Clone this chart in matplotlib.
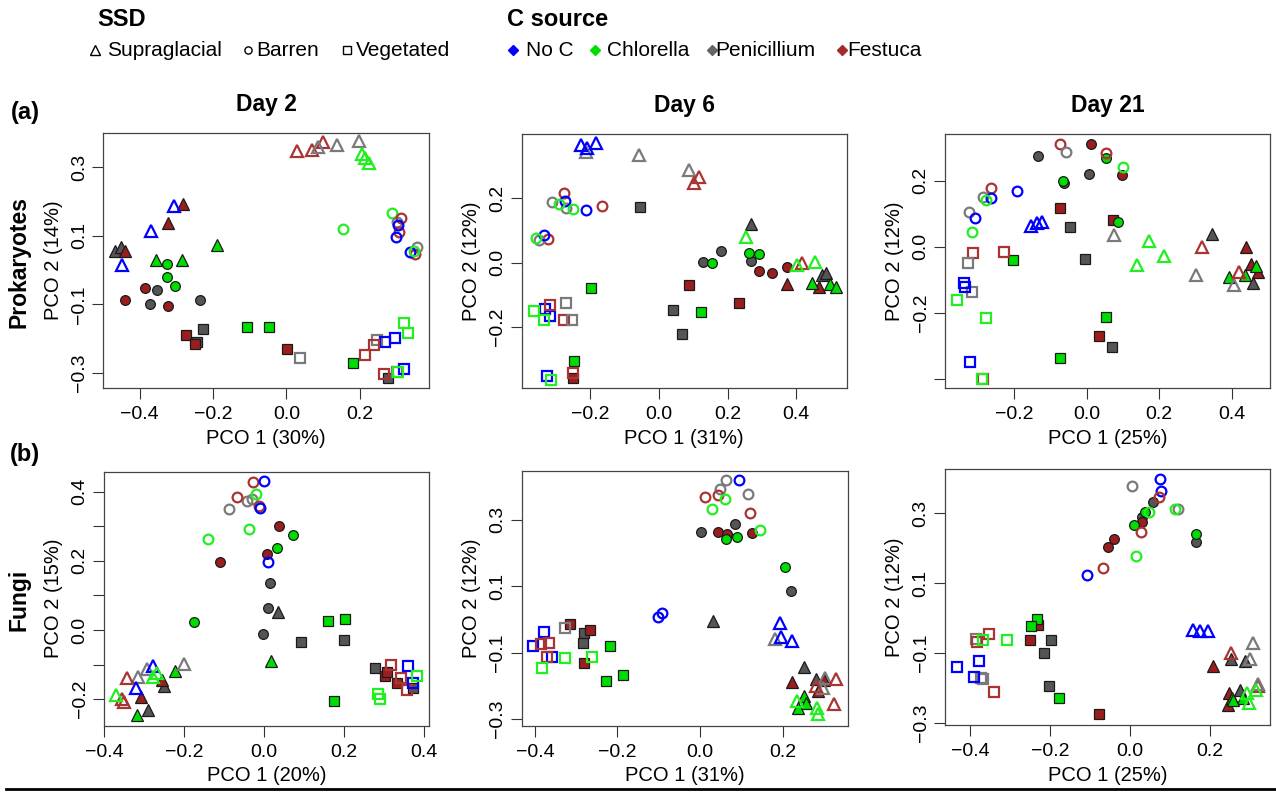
import matplotlib.pyplot as plt
from matplotlib.lines import Line2D

plt.rcParams['font.family'] = ['Liberation Sans', 'DejaVu Sans']

# point tables: (ssd, c source, filled, PCO1, PCO2)
# ssd: S = Supraglacial, B = Barren, V = Vegetated
# source: N = No C, C = Chlorella, P = Penicillium, F = Festuca
prok_day2 = [
    ("S", "N", 0, -0.306, 0.188), ("S", "N", 0, -0.370, 0.113), ("S", "N", 0, -0.447, 0.014),
    ("S", "F", 0, 0.028, 0.347), ("S", "F", 0, 0.069, 0.349), ("S", "F", 0, 0.099, 0.373),
    ("S", "P", 0, 0.087, 0.359), ("S", "P", 0, 0.139, 0.365), ("S", "P", 0, 0.198, 0.376),
    ("S", "C", 0, 0.207, 0.339), ("S", "C", 0, 0.215, 0.325), ("S", "C", 0, 0.226, 0.312),
    ("S", "P", 1, -0.467, 0.057), ("S", "P", 1, -0.452, 0.067),
    ("S", "F", 1, -0.283, 0.193), ("S", "F", 1, -0.323, 0.137), ("S", "F", 1, -0.440, 0.055),
    ("S", "C", 1, -0.188, 0.072), ("S", "C", 1, -0.355, 0.030), ("S", "C", 1, -0.284, 0.028),
    ("B", "C", 0, 0.155, 0.120), ("B", "C", 0, 0.289, 0.167),
    ("B", "P", 0, 0.301, 0.140), ("B", "P", 0, 0.355, 0.067),
    ("B", "F", 0, 0.313, 0.152), ("B", "F", 0, 0.308, 0.111), ("B", "F", 0, 0.351, 0.046),
    ("B", "N", 0, 0.305, 0.130), ("B", "N", 0, 0.299, 0.096), ("B", "N", 0, 0.337, 0.052),
    ("B", "C", 0, 0.348, 0.055),
    ("B", "C", 1, -0.325, 0.018), ("B", "C", 1, -0.324, -0.019), ("B", "C", 1, -0.303, -0.047),
    ("B", "F", 1, -0.384, -0.053), ("B", "F", 1, -0.440, -0.087), ("B", "F", 1, -0.322, -0.105),
    ("B", "P", 1, -0.353, -0.059), ("B", "P", 1, -0.372, -0.100), ("B", "P", 1, -0.235, -0.086),
    ("V", "P", 1, -0.243, -0.208), ("V", "P", 1, -0.226, -0.172), ("V", "P", 1, 0.276, -0.315),
    ("V", "F", 1, -0.274, -0.190), ("V", "F", 1, -0.250, -0.214), ("V", "F", 1, 0.002, -0.230),
    ("V", "C", 1, -0.108, -0.166), ("V", "C", 1, -0.047, -0.167), ("V", "C", 1, 0.181, -0.269),
    ("V", "P", 0, 0.038, -0.256), ("V", "P", 0, 0.248, -0.202), ("V", "P", 0, 0.301, -0.298),
    ("V", "N", 0, 0.268, -0.209), ("V", "N", 0, 0.295, -0.198), ("V", "N", 0, 0.322, -0.288),
    ("V", "F", 0, 0.239, -0.219), ("V", "F", 0, 0.215, -0.248), ("V", "F", 0, 0.265, -0.301),
    ("V", "C", 0, 0.305, -0.298), ("V", "C", 0, 0.322, -0.155), ("V", "C", 0, 0.333, -0.184),
]

prok_day6 = [
    ("S", "P", 0, -0.213, 0.343), ("S", "P", 0, -0.058, 0.335), ("S", "P", 0, 0.088, 0.288),
    ("S", "N", 0, -0.228, 0.366), ("S", "N", 0, -0.209, 0.355), ("S", "N", 0, -0.184, 0.373),
    ("S", "F", 0, 0.117, 0.265), ("S", "F", 0, 0.103, 0.247), ("S", "F", 0, 0.416, 0.000),
    ("S", "C", 0, 0.255, 0.081), ("S", "C", 0, 0.401, -0.009), ("S", "C", 0, 0.456, 0.003),
    ("S", "P", 1, 0.267, 0.120), ("S", "P", 1, 0.474, -0.040), ("S", "P", 1, 0.488, -0.033),
    ("S", "F", 1, 0.374, -0.067), ("S", "F", 1, 0.466, -0.075),
    ("S", "C", 1, 0.447, -0.062), ("S", "C", 1, 0.498, -0.067), ("S", "C", 1, 0.515, -0.075),
    ("B", "F", 0, -0.276, 0.216), ("B", "F", 0, -0.165, 0.176), ("B", "F", 0, -0.324, 0.073),
    ("B", "P", 0, -0.313, 0.190), ("B", "P", 0, -0.272, 0.171), ("B", "P", 0, -0.350, 0.070),
    ("B", "N", 0, -0.274, 0.193), ("B", "N", 0, -0.213, 0.164), ("B", "N", 0, -0.335, 0.086),
    ("B", "C", 0, -0.291, 0.182), ("B", "C", 0, -0.250, 0.166), ("B", "C", 0, -0.359, 0.076),
    ("B", "P", 1, 0.127, 0.003), ("B", "P", 1, 0.182, 0.037), ("B", "P", 1, 0.268, 0.005),
    ("B", "C", 1, 0.154, -0.002), ("B", "C", 1, 0.261, 0.029), ("B", "C", 1, 0.291, 0.026),
    ("B", "F", 1, 0.290, -0.025), ("B", "F", 1, 0.328, -0.033), ("B", "F", 1, 0.372, -0.015),
    ("V", "P", 1, -0.055, 0.172), ("V", "P", 1, 0.040, -0.148), ("V", "P", 1, 0.068, -0.223),
    ("V", "C", 1, -0.197, -0.078), ("V", "C", 1, 0.122, -0.153), ("V", "C", 1, -0.249, -0.305),
    ("V", "F", 1, 0.087, -0.069), ("V", "F", 1, 0.232, -0.126), ("V", "F", 1, -0.250, -0.360),
    ("V", "N", 0, -0.332, -0.145), ("V", "N", 0, -0.317, -0.166), ("V", "N", 0, -0.325, -0.352),
    ("V", "C", 0, -0.364, -0.152), ("V", "C", 0, -0.335, -0.178), ("V", "C", 0, -0.316, -0.365),
    ("V", "F", 0, -0.317, -0.132), ("V", "F", 0, -0.276, -0.180), ("V", "F", 0, -0.250, -0.344),
    ("V", "P", 0, -0.271, -0.126), ("V", "P", 0, -0.254, -0.180),
]

prok_day21 = [
    ("B", "F", 0, -0.072, 0.311), ("B", "F", 0, 0.053, 0.282), ("B", "F", 0, -0.263, 0.176),
    ("B", "P", 0, -0.057, 0.285), ("B", "P", 0, -0.285, 0.151), ("B", "P", 0, -0.325, 0.104),
    ("B", "N", 0, -0.263, 0.148), ("B", "N", 0, -0.193, 0.168), ("B", "N", 0, -0.307, 0.087),
    ("B", "C", 0, 0.101, 0.240), ("B", "C", 0, -0.277, 0.141), ("B", "C", 0, -0.315, 0.044),
    ("B", "F", 1, 0.012, 0.311), ("B", "F", 1, 0.097, 0.217),
    ("B", "P", 1, -0.135, 0.274), ("B", "P", 1, 0.007, 0.220), ("B", "P", 1, -0.062, 0.193),
    ("V", "F", 1, -0.074, 0.116), ("V", "F", 1, 0.074, 0.081), ("V", "F", 1, 0.035, -0.272),
    ("B", "C", 1, 0.053, 0.268), ("B", "C", 1, -0.066, 0.198), ("B", "C", 1, 0.087, 0.075),
    ("S", "N", 0, -0.153, 0.063), ("S", "N", 0, -0.138, 0.071), ("S", "N", 0, -0.123, 0.076),
    ("S", "P", 0, 0.076, 0.035), ("S", "P", 0, 0.301, -0.086), ("S", "P", 0, 0.407, -0.116),
    ("S", "C", 0, 0.171, 0.017), ("S", "C", 0, 0.213, -0.027), ("S", "C", 0, 0.140, -0.057),
    ("S", "F", 0, 0.318, -0.002), ("S", "F", 0, 0.420, -0.078),
    ("S", "P", 1, 0.345, 0.038), ("S", "P", 1, 0.459, -0.109),
    ("S", "F", 1, 0.438, 0.000), ("S", "F", 1, 0.453, -0.052), ("S", "F", 1, 0.473, -0.076),
    ("S", "C", 1, 0.466, -0.060), ("S", "C", 1, 0.392, -0.091), ("S", "C", 1, 0.436, -0.086),
    ("V", "P", 1, -0.046, 0.058), ("V", "P", 1, -0.004, -0.038), ("V", "P", 1, 0.069, -0.303),
    ("V", "C", 1, -0.202, -0.042), ("V", "C", 1, 0.053, -0.214), ("V", "C", 1, -0.072, -0.338),
    ("V", "F", 0, -0.312, -0.018), ("V", "F", 0, -0.228, -0.015), ("V", "F", 0, -0.285, -0.401),
    ("V", "P", 0, -0.326, -0.050), ("V", "P", 0, -0.317, -0.138),
    ("V", "N", 0, -0.339, -0.109), ("V", "N", 0, -0.334, -0.123), ("V", "N", 0, -0.322, -0.350),
    ("V", "C", 0, -0.358, -0.161), ("V", "C", 0, -0.276, -0.217), ("V", "C", 0, -0.288, -0.401),
]

fungi_day2 = [
    ("B", "P", 0, -0.044, 0.373), ("B", "P", 0, -0.088, 0.349), ("B", "P", 0, -0.030, 0.380),
    ("B", "F", 0, -0.028, 0.429), ("B", "F", 0, -0.069, 0.384), ("B", "F", 0, -0.014, 0.360),
    ("B", "N", 0, -0.001, 0.432), ("B", "N", 0, -0.011, 0.354), ("B", "N", 0, 0.010, 0.196),
    ("B", "C", 0, -0.021, 0.394), ("B", "C", 0, -0.038, 0.293), ("B", "C", 0, -0.140, 0.264),
    ("B", "F", 1, 0.038, 0.301), ("B", "F", 1, 0.006, 0.220), ("B", "F", 1, -0.110, 0.196),
    ("B", "C", 1, 0.073, 0.275), ("B", "C", 1, 0.033, 0.238), ("B", "C", 1, -0.175, 0.024),
    ("B", "P", 1, 0.015, 0.137), ("B", "P", 1, 0.010, 0.065), ("B", "P", 1, -0.004, -0.011),
    ("S", "P", 1, 0.035, 0.053), ("S", "P", 1, -0.252, -0.162), ("S", "P", 1, -0.290, -0.232),
    ("S", "C", 1, 0.017, -0.089), ("S", "C", 1, -0.223, -0.119), ("S", "C", 1, -0.319, -0.246),
    ("S", "F", 1, -0.257, -0.145), ("S", "F", 1, -0.308, -0.193),
    ("S", "P", 0, -0.200, -0.099), ("S", "P", 0, -0.293, -0.114), ("S", "P", 0, -0.317, -0.137),
    ("S", "N", 0, -0.278, -0.104), ("S", "N", 0, -0.321, -0.167),
    ("S", "F", 0, -0.343, -0.138), ("S", "F", 0, -0.351, -0.209), ("S", "F", 0, -0.355, -0.200),
    ("S", "C", 0, -0.269, -0.125), ("S", "C", 0, -0.278, -0.135), ("S", "C", 0, -0.371, -0.187),
    ("V", "C", 1, 0.160, 0.027), ("V", "C", 1, 0.202, 0.031), ("V", "C", 1, 0.175, -0.206),
    ("V", "P", 1, 0.093, -0.035), ("V", "P", 1, 0.199, -0.029), ("V", "P", 1, 0.277, -0.111),
    ("V", "P", 1, 0.373, -0.169),
    ("V", "F", 1, 0.302, -0.133), ("V", "F", 1, 0.308, -0.121), ("V", "F", 1, 0.331, -0.152),
    ("V", "F", 0, 0.318, -0.101), ("V", "F", 0, 0.343, -0.140), ("V", "F", 0, 0.356, -0.174),
    ("V", "N", 0, 0.360, -0.104), ("V", "N", 0, 0.373, -0.152),
    ("V", "C", 0, 0.381, -0.133), ("V", "C", 0, 0.285, -0.185), ("V", "C", 0, 0.289, -0.200),
]

fungi_day6 = [
    ("B", "P", 0, 0.063, 0.419), ("B", "P", 0, 0.048, 0.391), ("B", "P", 0, 0.117, 0.376),
    ("B", "N", 0, 0.095, 0.419), ("B", "N", 0, -0.101, 0.008), ("B", "N", 0, -0.093, 0.020),
    ("B", "F", 0, 0.011, 0.368), ("B", "F", 0, 0.043, 0.375), ("B", "F", 0, 0.121, 0.320),
    ("B", "C", 0, 0.061, 0.363), ("B", "C", 0, 0.028, 0.333), ("B", "C", 0, 0.145, 0.268),
    ("B", "P", 1, 0.002, 0.263), ("B", "P", 1, 0.086, 0.286), ("B", "P", 1, 0.220, 0.085),
    ("B", "F", 1, 0.043, 0.263), ("B", "F", 1, 0.065, 0.258), ("B", "F", 1, 0.125, 0.261),
    ("B", "C", 1, 0.063, 0.241), ("B", "C", 1, 0.090, 0.248), ("B", "C", 1, 0.206, 0.158),
    ("S", "P", 1, 0.032, -0.005), ("S", "P", 1, 0.253, -0.142), ("S", "P", 1, 0.280, -0.180),
    ("S", "F", 1, 0.222, -0.189), ("S", "F", 1, 0.301, -0.184), ("S", "F", 1, 0.287, -0.215),
    ("S", "C", 1, 0.253, -0.231), ("S", "C", 1, 0.257, -0.253), ("S", "C", 1, 0.237, -0.268),
    ("S", "P", 0, 0.182, -0.060), ("S", "P", 0, 0.303, -0.177), ("S", "P", 0, 0.297, -0.208),
    ("S", "N", 0, 0.195, -0.010), ("S", "N", 0, 0.196, -0.052), ("S", "N", 0, 0.224, -0.064),
    ("S", "F", 0, 0.329, -0.180), ("S", "F", 0, 0.280, -0.200), ("S", "F", 0, 0.325, -0.256),
    ("S", "C", 0, 0.234, -0.245), ("S", "C", 0, 0.283, -0.268), ("S", "C", 0, 0.287, -0.286),
    ("V", "P", 1, -0.280, -0.042), ("V", "P", 1, -0.284, -0.072),
    ("V", "F", 1, -0.315, -0.015), ("V", "F", 1, -0.266, -0.032), ("V", "F", 1, -0.280, -0.130),
    ("V", "C", 1, -0.218, -0.079), ("V", "C", 1, -0.187, -0.169), ("V", "C", 1, -0.228, -0.187),
    ("V", "P", 0, -0.327, -0.025),
    ("V", "N", 0, -0.377, -0.037), ("V", "N", 0, -0.404, -0.079), ("V", "N", 0, -0.359, -0.112),
    ("V", "F", 0, -0.386, -0.075), ("V", "F", 0, -0.367, -0.070), ("V", "F", 0, -0.370, -0.112),
    ("V", "C", 0, -0.327, -0.117), ("V", "C", 0, -0.262, -0.112), ("V", "C", 0, -0.384, -0.145),
]

fungi_day21 = [
    ("B", "P", 0, 0.004, 0.378), ("B", "P", 0, 0.121, 0.312),
    ("B", "N", 0, 0.075, 0.396), ("B", "N", 0, 0.078, 0.364), ("B", "N", 0, -0.108, 0.122),
    ("B", "F", 0, 0.073, 0.345), ("B", "F", 0, 0.028, 0.246), ("B", "F", 0, -0.067, 0.143),
    ("B", "C", 0, 0.048, 0.304), ("B", "C", 0, 0.113, 0.312), ("B", "C", 0, 0.015, 0.178),
    ("B", "P", 1, 0.057, 0.332), ("B", "P", 1, 0.029, 0.288), ("B", "P", 1, 0.164, 0.217),
    ("B", "F", 1, 0.031, 0.275), ("B", "F", 1, -0.039, 0.226), ("B", "F", 1, -0.056, 0.202),
    ("B", "C", 1, 0.038, 0.302), ("B", "C", 1, 0.010, 0.266), ("B", "C", 1, 0.165, 0.240),
    ("S", "N", 0, 0.158, -0.033), ("S", "N", 0, 0.175, -0.038), ("S", "N", 0, 0.196, -0.038),
    ("S", "F", 0, 0.252, -0.099), ("S", "F", 0, 0.320, -0.195),
    ("S", "P", 0, 0.307, -0.071), ("S", "P", 0, 0.300, -0.116), ("S", "P", 0, 0.319, -0.188),
    ("S", "C", 0, 0.314, -0.204), ("S", "C", 0, 0.292, -0.213), ("S", "C", 0, 0.298, -0.242),
    ("S", "P", 1, 0.252, -0.116), ("S", "P", 1, 0.288, -0.123), ("S", "P", 1, 0.275, -0.204),
    ("S", "F", 1, 0.208, -0.137), ("S", "F", 1, 0.248, -0.213), ("S", "F", 1, 0.246, -0.247),
    ("S", "C", 1, 0.254, -0.228), ("S", "C", 1, 0.283, -0.228), ("S", "C", 1, 0.258, -0.235),
    ("V", "F", 1, -0.229, -0.019), ("V", "F", 1, -0.249, -0.061), ("V", "F", 1, -0.078, -0.275),
    ("V", "C", 1, -0.233, -0.002), ("V", "C", 1, -0.248, -0.023), ("V", "C", 1, -0.178, -0.228),
    ("V", "P", 1, -0.198, -0.061), ("V", "P", 1, -0.216, -0.099), ("V", "P", 1, -0.203, -0.194),
    ("V", "P", 0, -0.385, -0.060), ("V", "P", 0, -0.368, -0.173), ("V", "P", 0, -0.372, -0.170),
    ("V", "F", 0, -0.352, -0.046), ("V", "F", 0, -0.382, -0.069), ("V", "F", 0, -0.340, -0.211),
    ("V", "C", 0, -0.367, -0.063), ("V", "C", 0, -0.308, -0.061),
    ("V", "N", 0, -0.433, -0.139), ("V", "N", 0, -0.377, -0.123), ("V", "N", 0, -0.390, -0.168),
]

days = ["Day 2", "Day 6", "Day 21"]
x_labels = ["PCO 1 (30%)", "PCO 1 (31%)", "PCO 1 (25%)", "PCO 1 (20%)", "PCO 1 (31%)", "PCO 1 (25%)"]
y_labels = ["PCO 2 (14%)", "PCO 2 (12%)", "PCO 2 (12%)", "PCO 2 (15%)", "PCO 2 (12%)", "PCO 2 (12%)"]
ssd_names = ["Supraglacial", "Barren", "Vegetated"]
source_names = ["No C", "Chlorella", "Penicillium", "Festuca"]

shape = {"S": "^", "B": "o", "V": "s"}
msize = {"S": 8.2, "B": 7.0, "V": 6.6}
fill_col = {"N": "#0000FF", "C": "#00DD00", "P": "#555555", "F": "#9A1E1E"}
open_col = {"N": "#0000FF", "C": "#22EE22", "P": "#7A7A7A", "F": "#AA3333"}
legend_col = ["#0000FF", "#00DD00", "#666666", "#A52A2A"]

W, H = 1276, 794
fig = plt.figure(figsize=(W / 100, H / 100), dpi=100)

def px_box(x0, x1, y0, y1):
    return [x0 / W, 1 - y1 / H, (x1 - x0) / W, (y1 - y0) / H]

panels = [
    (prok_day2, px_box(103.3, 429, 133, 388.3), (-0.499, 0.389), (-0.344, 0.399),
     [-0.4, -0.2, 0.0, 0.2], [-0.3, -0.1, 0.1, 0.3], [-0.3, -0.1, 0.1, 0.3]),
    (prok_day6, px_box(521.7, 846.7, 134, 388.3), (-0.400, 0.547), (-0.391, 0.400),
     [-0.2, 0.0, 0.2, 0.4], [-0.2, 0.0, 0.2], [-0.2, 0.0, 0.2]),
    (prok_day21, px_box(945, 1270, 134, 388.3), (-0.390, 0.505), (-0.429, 0.341),
     [-0.2, 0.0, 0.2, 0.4], [-0.4, -0.2, 0.0, 0.2], [-0.2, 0.0, 0.2]),
    (fungi_day2, px_box(104, 429, 471.7, 725.7), (-0.401, 0.412), (-0.277, 0.458),
     [-0.4, -0.2, 0.0, 0.2, 0.4], [-0.2, -0.1, 0.0, 0.1, 0.2, 0.3, 0.4], [-0.2, 0.0, 0.2, 0.4]),
    (fungi_day6, px_box(521.7, 847.7, 470.7, 725.7), (-0.432, 0.358), (-0.320, 0.447),
     [-0.4, -0.2, 0.0, 0.2], [-0.3, -0.1, 0.1, 0.3], [-0.3, -0.1, 0.1, 0.3]),
    (fungi_day21, px_box(945, 1270, 469.3, 725), (-0.4625, 0.350), (-0.305, 0.425),
     [-0.4, -0.2, 0.0, 0.2], [-0.3, -0.1, 0.1, 0.3], [-0.3, -0.1, 0.1, 0.3]),
]

def fmt(v):
    s = f"{v:.1f}"
    return s.replace("-", "\u2212")

for i, (pts, pos, xlim, ylim, xt, yt, ylab_vals) in enumerate(panels):
    ax = fig.add_axes(pos)
    # filled symbols first, open ones on top
    for ssd, src, filled, x, y in sorted(pts, key=lambda p: 1 - p[2]):
        if filled:
            ax.plot(x, y, marker=shape[ssd], ms=msize[ssd], mfc=fill_col[src],
                    mec="#1a1a1a", mew=0.9, ls="none")
        else:
            ax.plot(x, y, marker=shape[ssd], ms=msize[ssd], mfc="none",
                    mec=open_col[src], mew=1.6, ls="none")
    ax.set_xlim(xlim)
    ax.set_ylim(ylim)
    ax.set_xticks(xt)
    ax.set_xticklabels([fmt(v) for v in xt])
    ax.set_yticks(yt)
    ax.set_yticklabels([fmt(v) if any(abs(v - w) < 1e-9 for w in ylab_vals) else "" for v in yt])
    for lbl in ax.get_yticklabels():
        lbl.set_rotation(90)
        lbl.set_va("center")
    ax.tick_params(direction="out", length=8, width=0.8, color="#333333", labelsize=14)
    ax.tick_params(axis="x", pad=5)
    ax.tick_params(axis="y", pad=3)
    for sp in ax.spines.values():
        sp.set_color("#444444")
        sp.set_linewidth(0.9)
    ax.set_xlabel(x_labels[i], fontsize=14.5, labelpad=4)
    ax.set_ylabel(y_labels[i], fontsize=14.5, labelpad=6)
    if i < 3:
        ax.set_title(days[i], fontsize=16.5, fontweight="bold", pad=16)

# row labels
fig.text(25 / W, 1 - 112 / H, "(a)", fontsize=17, fontweight="bold", ha="center", va="center")
fig.text(25 / W, 1 - 454 / H, "(b)", fontsize=17, fontweight="bold", ha="center", va="center")
fig.text(19 / W, 1 - 262 / H, "Prokaryotes", fontsize=16.5, fontweight="bold",
         rotation=90, ha="center", va="center")
fig.text(19 / W, 1 - 600 / H, "Fungi", fontsize=16.5, fontweight="bold",
         rotation=90, ha="center", va="center")

# legend block on top
fig.text(97 / W, 1 - 19 / H, "SSD", fontsize=17, fontweight="bold", ha="left", va="center")
fig.text(507 / W, 1 - 19 / H, "C source", fontsize=17, fontweight="bold", ha="left", va="center")

ly = 1 - 50 / H
for name, mk, ms, mx, tx in zip(ssd_names, ["^", "o", "s"], [7.5, 5.2, 5.2],
                                [95, 248, 347], [107, 256, 356]):
    fig.add_artist(Line2D([mx / W], [ly], marker=mk, ms=ms, mfc="none", mec="black",
                          mew=1.0, ls="none", transform=fig.transFigure))
    fig.text(tx / W, ly, name, fontsize=15, ha="left", va="center")
for name, col, mx, tx in zip(source_names, legend_col, [513, 595, 712, 842], [526, 607, 715, 847]):
    fig.add_artist(Line2D([mx / W], [ly], marker="D", ms=4.6, mfc=col, mec=col,
                          ls="none", transform=fig.transFigure))
    fig.text(tx / W, ly, name, fontsize=15, ha="left", va="center")

# rule along the bottom
fig.add_artist(Line2D([0.005, 1.0], [1 - 789 / H, 1 - 789 / H], color="black", lw=2,
                      transform=fig.transFigure))

fig.savefig("out.png", dpi=100)
